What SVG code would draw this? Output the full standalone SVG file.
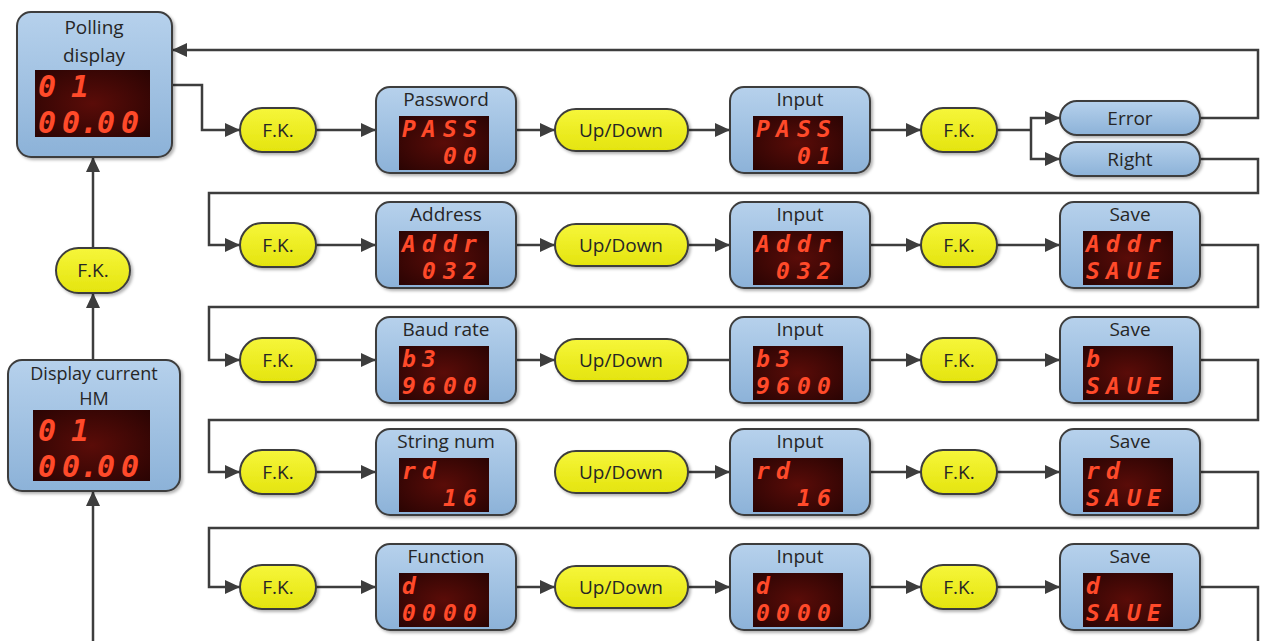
<svg xmlns="http://www.w3.org/2000/svg" width="1261" height="641" viewBox="0 0 1261 641">
<style>
.box{fill:url(#gBlue);stroke:#3d3d3d;stroke-width:2;filter:url(#sh)}
.yel{fill:url(#gYel);stroke:#3d3d3d;stroke-width:2;filter:url(#sh)}
.scr{fill:url(#gScr)}
.t{font-family:"Open Sans","Liberation Sans",sans-serif;font-size:19px;fill:#262626;text-anchor:middle}
.t18{font-size:18px}
.led{font-family:"DejaVu Sans Mono",monospace;font-style:italic;font-weight:bold;font-size:23px;fill:#ff4a2a}
.big{font-size:30px}
.conn path{fill:none;stroke:#3d3d3d;stroke-width:2.5}
.arr{marker-end:url(#ah)}
</style>
<defs>
<linearGradient id="gBlue" x1="0" y1="0" x2="0" y2="1"><stop offset="0" stop-color="#b6d1ec"/><stop offset="1" stop-color="#8cb2d8"/></linearGradient>
<linearGradient id="gYel" x1="0" y1="0" x2="0" y2="1"><stop offset="0" stop-color="#f6f63a"/><stop offset="1" stop-color="#e4e40e"/></linearGradient>
<radialGradient id="gScr" cx="0.5" cy="0.5" r="0.7"><stop offset="0" stop-color="#5a0c08"/><stop offset="1" stop-color="#2a0403"/></radialGradient>
<filter id="sh" x="-10%" y="-10%" width="130%" height="130%"><feDropShadow dx="2" dy="2" stdDeviation="1.5" flood-opacity="0.3"/></filter>
<marker id="ah" markerUnits="userSpaceOnUse" markerWidth="16" markerHeight="14" refX="15" refY="7" orient="auto"><path d="M0,0 L15,7 L0,14 z" fill="#3d3d3d"/></marker>
</defs>

<g class="conn">
<path class="arr" d="M172,85 H202 V130 H240"/>
<path class="arr" d="M316,130 H376"/>
<path class="arr" d="M516,130 H555"/>
<path class="arr" d="M688,130 H730"/>
<path class="arr" d="M870,130 H921"/>
<path d="M997,130 H1031"/>
<path class="arr" d="M1031,130 V118 H1060"/>
<path class="arr" d="M1031,130 V159 H1060"/>
<path class="arr" d="M1200,118 H1258 V50 H172"/>
<path class="arr" d="M1200,159 H1258 V193 H209 V245 H240"/>
<path class="arr" d="M316,245 H376"/>
<path class="arr" d="M516,245 H555"/>
<path class="arr" d="M688,245 H730"/>
<path class="arr" d="M870,245 H921"/>
<path class="arr" d="M997,245 H1060"/>
<path class="arr" d="M1200,245 H1258 V307 H209 V360 H240"/>
<path class="arr" d="M316,360 H376"/>
<path class="arr" d="M516,360 H555"/>
<path class="arr" d="M688,360 H750"/>
<path class="arr" d="M870,360 H921"/>
<path class="arr" d="M997,360 H1060"/>
<path class="arr" d="M1200,360 H1258 V420 H209 V472 H240"/>
<path class="arr" d="M316,472 H376"/>
<path class="arr" d="M688,472 H730"/>
<path class="arr" d="M870,472 H921"/>
<path class="arr" d="M997,472 H1060"/>
<path class="arr" d="M1200,472 H1258 V528 H209 V587 H240"/>
<path class="arr" d="M316,587 H376"/>
<path class="arr" d="M516,587 H555"/>
<path class="arr" d="M688,587 H730"/>
<path class="arr" d="M870,587 H921"/>
<path class="arr" d="M997,587 H1060"/>
<path d="M1200,587 H1258 V641"/>
<path class="arr" d="M93,641 V491"/>
<path class="arr" d="M93,360 V293"/>
<path class="arr" d="M93,248 V157"/>
</g>

<g id="polling">
<rect class="box" x="17" y="12" width="155" height="145" rx="14"/>
<text class="t" x="94" y="34">Polling</text>
<text class="t" x="94" y="62">display</text>
<rect class="scr" x="35" y="70" width="115" height="67"/>
<text class="led big" x="38 71" y="97">01</text>
<text class="led big" x="38 62 80 97 121" y="133">00.00</text>
</g>
<g id="fk0">
<rect class="yel" x="56" y="248" width="74" height="45" rx="22.5"/>
<text class="t" x="93" y="277">F.K.</text>
</g>
<g id="current">
<rect class="box" x="8" y="360" width="172" height="131" rx="14"/>
<text class="t t18" x="94" y="380">Display current</text>
<text class="t t18" x="94" y="405">HM</text>
<rect class="scr" x="33" y="410" width="117" height="71"/>
<text class="led big" x="38 71" y="441">01</text>
<text class="led big" x="38 62 80 97 121" y="477">00.00</text>
</g>

<!-- Row 1 -->
<g id="fk1a"><rect class="yel" x="240" y="108" width="76" height="44" rx="22"/><text class="t" x="278" y="137">F.K.</text></g>
<g id="password"><rect class="box" x="376" y="87" width="140" height="86" rx="14"/><text class="t" x="446" y="106">Password</text><rect class="scr" x="399" y="116" width="90" height="54"/><text class="led" x="402 422 443 463" y="137">PASS</text><text class="led" x="443 463" y="164">00</text></g>
<g id="ud1"><rect class="yel" x="555" y="109" width="133" height="42" rx="21"/><text class="t" x="621" y="137">Up/Down</text></g>
<g id="input1"><rect class="box" x="730" y="87" width="140" height="86" rx="14"/><text class="t" x="800" y="106">Input</text><rect class="scr" x="753" y="116" width="90" height="54"/><text class="led" x="756 776 797 817" y="137">PASS</text><text class="led" x="797 817" y="164">01</text></g>
<g id="fk1b"><rect class="yel" x="921" y="108" width="76" height="44" rx="22"/><text class="t" x="959" y="137">F.K.</text></g>
<g id="error"><rect class="box" x="1060" y="101" width="140" height="34" rx="17"/><text class="t" x="1130" y="125">Error</text></g>
<g id="right"><rect class="box" x="1060" y="142" width="140" height="34" rx="17"/><text class="t" x="1130" y="166">Right</text></g>

<!-- Row 2 -->
<g id="fk2a"><rect class="yel" x="240" y="223" width="76" height="44" rx="22"/><text class="t" x="278" y="252">F.K.</text></g>
<g id="address"><rect class="box" x="376" y="202" width="140" height="86" rx="14"/><text class="t" x="446" y="221">Address</text><rect class="scr" x="399" y="231" width="90" height="54"/><text class="led" x="402 422 443 463" y="252">Addr</text><text class="led" x="422 443 463" y="279">032</text></g>
<g id="ud2"><rect class="yel" x="555" y="224" width="133" height="42" rx="21"/><text class="t" x="621" y="252">Up/Down</text></g>
<g id="input2"><rect class="box" x="730" y="202" width="140" height="86" rx="14"/><text class="t" x="800" y="221">Input</text><rect class="scr" x="753" y="231" width="90" height="54"/><text class="led" x="756 776 797 817" y="252">Addr</text><text class="led" x="776 797 817" y="279">032</text></g>
<g id="fk2b"><rect class="yel" x="921" y="223" width="76" height="44" rx="22"/><text class="t" x="959" y="252">F.K.</text></g>
<g id="save2"><rect class="box" x="1060" y="202" width="140" height="86" rx="14"/><text class="t" x="1130" y="221">Save</text><rect class="scr" x="1083" y="231" width="90" height="54"/><text class="led" x="1086 1106 1127 1147" y="252">Addr</text><text class="led" x="1086 1106 1127 1147" y="279">SAUE</text></g>

<!-- Row 3 -->
<g id="fk3a"><rect class="yel" x="240" y="338" width="76" height="44" rx="22"/><text class="t" x="278" y="367">F.K.</text></g>
<g id="baud"><rect class="box" x="376" y="317" width="140" height="86" rx="14"/><text class="t" x="446" y="336">Baud rate</text><rect class="scr" x="399" y="346" width="90" height="54"/><text class="led" x="402 422" y="367">b3</text><text class="led" x="402 422 443 463" y="394">9600</text></g>
<g id="ud3"><rect class="yel" x="555" y="339" width="133" height="42" rx="21"/><text class="t" x="621" y="367">Up/Down</text></g>
<g id="input3"><rect class="box" x="730" y="317" width="140" height="86" rx="14"/><text class="t" x="800" y="336">Input</text><rect class="scr" x="753" y="346" width="90" height="54"/><text class="led" x="756 776" y="367">b3</text><text class="led" x="756 776 797 817" y="394">9600</text></g>
<g id="fk3b"><rect class="yel" x="921" y="338" width="76" height="44" rx="22"/><text class="t" x="959" y="367">F.K.</text></g>
<g id="save3"><rect class="box" x="1060" y="317" width="140" height="86" rx="14"/><text class="t" x="1130" y="336">Save</text><rect class="scr" x="1083" y="346" width="90" height="54"/><text class="led" x="1086" y="367">b</text><text class="led" x="1086 1106 1127 1147" y="394">SAUE</text></g>

<!-- Row 4 -->
<g id="fk4a"><rect class="yel" x="240" y="450" width="76" height="44" rx="22"/><text class="t" x="278" y="479">F.K.</text></g>
<g id="stringnum"><rect class="box" x="376" y="429" width="140" height="86" rx="14"/><text class="t" x="446" y="448">String num</text><rect class="scr" x="399" y="458" width="90" height="54"/><text class="led" x="402 422" y="479">rd</text><text class="led" x="443 463" y="506">16</text></g>
<g id="ud4"><rect class="yel" x="555" y="451" width="133" height="42" rx="21"/><text class="t" x="621" y="479">Up/Down</text></g>
<g id="input4"><rect class="box" x="730" y="429" width="140" height="86" rx="14"/><text class="t" x="800" y="448">Input</text><rect class="scr" x="753" y="458" width="90" height="54"/><text class="led" x="756 776" y="479">rd</text><text class="led" x="797 817" y="506">16</text></g>
<g id="fk4b"><rect class="yel" x="921" y="450" width="76" height="44" rx="22"/><text class="t" x="959" y="479">F.K.</text></g>
<g id="save4"><rect class="box" x="1060" y="429" width="140" height="86" rx="14"/><text class="t" x="1130" y="448">Save</text><rect class="scr" x="1083" y="458" width="90" height="54"/><text class="led" x="1086 1106" y="479">rd</text><text class="led" x="1086 1106 1127 1147" y="506">SAUE</text></g>

<!-- Row 5 -->
<g id="fk5a"><rect class="yel" x="240" y="565" width="76" height="44" rx="22"/><text class="t" x="278" y="594">F.K.</text></g>
<g id="function"><rect class="box" x="376" y="544" width="140" height="86" rx="14"/><text class="t" x="446" y="563">Function</text><rect class="scr" x="399" y="573" width="90" height="54"/><text class="led" x="402" y="594">d</text><text class="led" x="402 422 443 463" y="621">0000</text></g>
<g id="ud5"><rect class="yel" x="555" y="566" width="133" height="42" rx="21"/><text class="t" x="621" y="594">Up/Down</text></g>
<g id="input5"><rect class="box" x="730" y="544" width="140" height="86" rx="14"/><text class="t" x="800" y="563">Input</text><rect class="scr" x="753" y="573" width="90" height="54"/><text class="led" x="756" y="594">d</text><text class="led" x="756 776 797 817" y="621">0000</text></g>
<g id="fk5b"><rect class="yel" x="921" y="565" width="76" height="44" rx="22"/><text class="t" x="959" y="594">F.K.</text></g>
<g id="save5"><rect class="box" x="1060" y="544" width="140" height="86" rx="14"/><text class="t" x="1130" y="563">Save</text><rect class="scr" x="1083" y="573" width="90" height="54"/><text class="led" x="1086" y="594">d</text><text class="led" x="1086 1106 1127 1147" y="621">SAUE</text></g>
</svg>
